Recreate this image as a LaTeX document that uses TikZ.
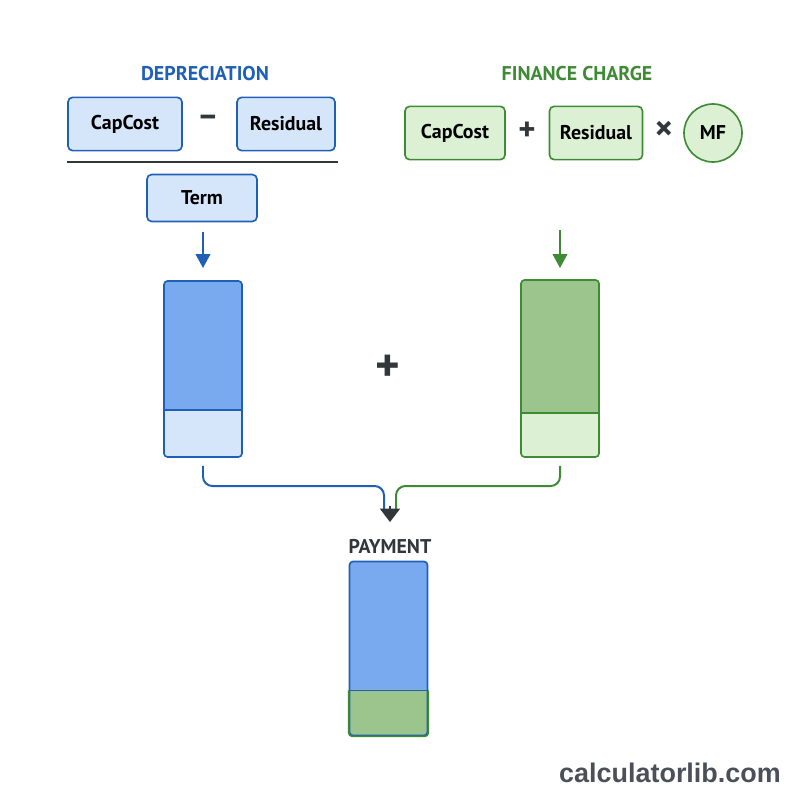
\documentclass[tikz,border=0pt]{standalone}
\usepackage{fontspec}
\setmainfont{PT Sans}
\newfontfamily\sitefont{Liberation Sans}
\usepackage{xcolor}
\usetikzlibrary{arrows.meta,positioning}

\definecolor{blueline}{HTML}{1F5FB5}
\definecolor{bluefill}{HTML}{D6E6FA}
\definecolor{bluebar}{HTML}{79AAF0}
\definecolor{greenline}{HTML}{3F8A35}
\definecolor{greenfill}{HTML}{DCF1D4}
\definecolor{greenbar}{HTML}{9BC58C}
\definecolor{darkgray}{HTML}{33363B}
\definecolor{sitegray}{HTML}{4A4F5A}

\begin{document}
\begin{tikzpicture}[
    x=0.3mm, y=-0.3mm,
    title/.style={font=\bfseries\fontsize{17}{20}\selectfont},
    term/.style={draw, rounded corners=4pt, line width=1.4pt, align=center, minimum height=16mm, font=\bfseries\fontsize{17}{20}\selectfont},
    bterm/.style={term, draw=blueline, fill=bluefill},
    gterm/.style={term, draw=greenline, fill=greenfill},
    op/.style={font=\bfseries\fontsize{28}{30}\selectfont, text=darkgray},
    bar/.style={draw, rounded corners=3pt, line width=1.4pt, minimum width=23.4mm},
    arr/.style={-{Triangle[length=4.2mm,width=4.4mm]}, line width=1.7pt}
]
\useasboundingbox (0,0) rectangle (800,800);
% depreciation
\node[title, text=blueline] (deptitle) at (205,74) {DEPRECIATION};
\node[bterm, minimum width=34.2mm] (dcap) at (125,124) {CapCost};
\node[op] (dminus) at (208,121) {--};
\node[bterm, minimum width=29.4mm] (dres) at (286,124) {Residual};
\draw[darkgray, line width=1.8pt] (67,162) -- (338,162);
\node[bterm, minimum width=33mm, minimum height=14.1mm] (dterm) at (202,198) {Term};
% finance charge
\node[title, text=greenline] (fintitle) at (577,74) {FINANCE CHARGE};
\node[gterm, minimum width=30mm] (fcap) at (455,133) {CapCost};
\node[op] (fplus) at (527,131) {+};
\node[gterm, minimum width=27.9mm] (fres) at (596,133) {Residual};
\node[op, font=\bfseries\fontsize{30}{32}\selectfont] (ftimes) at (664,131) {×};
\node[gterm, circle, minimum size=17.4mm, inner sep=0pt] (mf) at (713,133) {MF};
% bars
\node[bar, draw=blueline, fill=bluebar, minimum height=52.8mm,
    path picture={\fill[bluefill] (path picture bounding box.south west) rectangle ([yshift=14.1mm]path picture bounding box.south east);
    \draw[blueline, line width=1.4pt] ([yshift=14.1mm]path picture bounding box.south west) -- ([yshift=14.1mm]path picture bounding box.south east);}] (dbar) at (203,369) {};
\node[bar, draw=greenline, fill=greenbar, minimum height=53.1mm,
    path picture={\fill[greenfill] (path picture bounding box.south west) rectangle ([yshift=13.2mm]path picture bounding box.south east);
    \draw[greenline, line width=1.4pt] ([yshift=13.2mm]path picture bounding box.south west) -- ([yshift=13.2mm]path picture bounding box.south east);}] (fbar) at (560,368.5) {};
\node[op, font=\bfseries\fontsize{40}{42}\selectfont] (plus) at (388,368) {+};
\draw[arr, blueline] (203,232) -- (dbar.north |- 0,268);
\draw[arr, greenline] (560,230) -- (fbar.north |- 0,268);
% payment
\coordinate (join) at (390,522);
\draw[blueline, line width=1.7pt, rounded corners=8pt] ([yshift=-2.4mm]dbar.south) |- (384,486) -- (384,512);
\draw[greenline, line width=1.7pt, rounded corners=8pt] ([yshift=-2.4mm]fbar.south) |- (396,486) -- (396,512);
\draw[-{Triangle[length=4mm,width=6mm]}, darkgray, line width=1.3pt] (390,506) -- (join);
\node[title, text=darkgray] (paytitle) at (390,546) {PAYMENT};
\node[bar, draw=blueline, fill=bluebar, minimum height=52.2mm,
    path picture={\fill[greenbar] (path picture bounding box.south west) rectangle ([yshift=13.8mm]path picture bounding box.south east);}] (pay) at (388.5,648.5) {};
\draw[greenline, line width=1.4pt, rounded corners=3pt] ([yshift=13.8mm]pay.south west) -- (pay.south west) -- (pay.south east) -- ([yshift=13.8mm]pay.south east);
\draw[blueline, line width=1.4pt] ([yshift=13.8mm]pay.south west) -- ([yshift=13.8mm]pay.south east);
\node[font=\sitefont\bfseries\fontsize{23}{26}\selectfont, text=sitegray] (site) at (670,773) {calculatorlib.com};
\end{tikzpicture}
\end{document}
